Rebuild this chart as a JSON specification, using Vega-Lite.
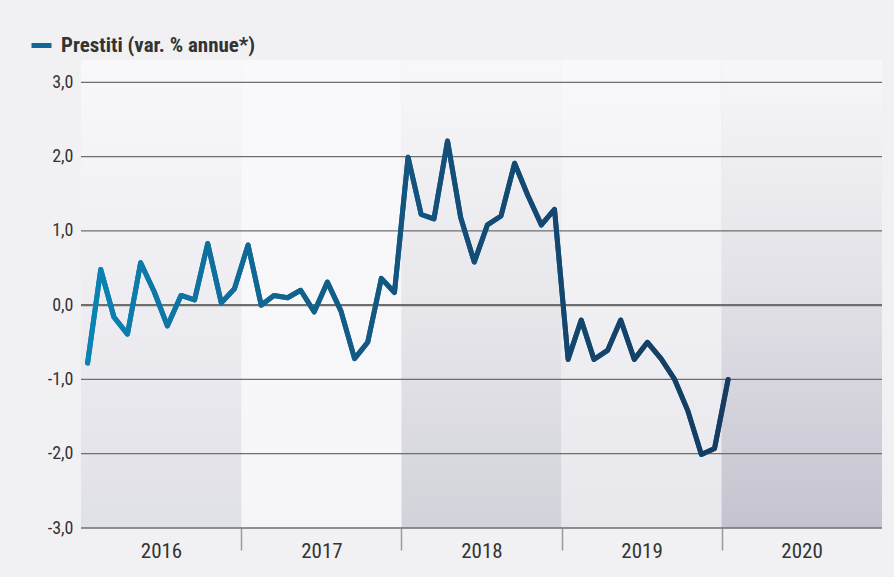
{
  "$schema": "https://vega.github.io/schema/vega-lite/v6.json",
  "width": 801,
  "height": 468,
  "autosize": {"type": "none"},
  "padding": {"left": 81, "top": 60, "right": 12, "bottom": 49},
  "background": "#f1f1f4",
  "config": {
    "view": {"stroke": null},
    "font": "Roboto Condensed, DejaVu Sans Condensed, Roboto"
  },
  "datasets": {
    "serie": [
      {"date": "2016-01-16", "val": -0.78},
      {"date": "2016-02-15", "val": 0.48},
      {"date": "2016-03-16", "val": -0.16},
      {"date": "2016-04-16", "val": -0.39},
      {"date": "2016-05-16", "val": 0.57},
      {"date": "2016-06-16", "val": 0.18},
      {"date": "2016-07-16", "val": -0.28},
      {"date": "2016-08-16", "val": 0.13},
      {"date": "2016-09-16", "val": 0.07},
      {"date": "2016-10-16", "val": 0.83},
      {"date": "2016-11-16", "val": 0.03},
      {"date": "2016-12-16", "val": 0.22},
      {"date": "2017-01-16", "val": 0.81},
      {"date": "2017-02-15", "val": 0.0},
      {"date": "2017-03-16", "val": 0.13},
      {"date": "2017-04-16", "val": 0.10},
      {"date": "2017-05-16", "val": 0.20},
      {"date": "2017-06-16", "val": -0.09},
      {"date": "2017-07-16", "val": 0.31},
      {"date": "2017-08-16", "val": -0.08},
      {"date": "2017-09-16", "val": -0.72},
      {"date": "2017-10-16", "val": -0.50},
      {"date": "2017-11-16", "val": 0.36},
      {"date": "2017-12-16", "val": 0.17},
      {"date": "2018-01-16", "val": 1.99},
      {"date": "2018-02-15", "val": 1.22},
      {"date": "2018-03-16", "val": 1.16},
      {"date": "2018-04-16", "val": 2.21},
      {"date": "2018-05-16", "val": 1.18},
      {"date": "2018-06-16", "val": 0.58},
      {"date": "2018-07-16", "val": 1.08},
      {"date": "2018-08-16", "val": 1.20},
      {"date": "2018-09-16", "val": 1.91},
      {"date": "2018-10-16", "val": 1.48},
      {"date": "2018-11-16", "val": 1.08},
      {"date": "2018-12-16", "val": 1.29},
      {"date": "2019-01-16", "val": -0.73},
      {"date": "2019-02-15", "val": -0.20},
      {"date": "2019-03-16", "val": -0.73},
      {"date": "2019-04-16", "val": -0.61},
      {"date": "2019-05-16", "val": -0.20},
      {"date": "2019-06-16", "val": -0.73},
      {"date": "2019-07-16", "val": -0.50},
      {"date": "2019-08-16", "val": -0.72},
      {"date": "2019-09-16", "val": -1.00},
      {"date": "2019-10-16", "val": -1.42},
      {"date": "2019-11-16", "val": -2.01},
      {"date": "2019-12-16", "val": -1.93},
      {"date": "2020-01-16", "val": -1.00}
    ],
    "bands": [
      {"start": "2016-01-01", "end": "2017-01-01", "tone": "a"},
      {"start": "2017-01-01", "end": "2018-01-01", "tone": "b"},
      {"start": "2018-01-01", "end": "2019-01-01", "tone": "c"},
      {"start": "2019-01-01", "end": "2020-01-01", "tone": "d"},
      {"start": "2020-01-01", "end": "2021-01-01", "tone": "e"}
    ],
    "grid": [{"v": -3}, {"v": -2}, {"v": -1}, {"v": 0}, {"v": 1}, {"v": 2}, {"v": 3}]
  },
  "layer": [
    {
      "data": {"name": "bands"},
      "mark": {"type": "rect"},
      "encoding": {
        "x": {
          "field": "start", "type": "temporal",
          "scale": {"domain": ["2016-01-01", "2021-01-01"]},
          "axis": {
            "values": ["2016-01-01", "2017-01-01", "2018-01-01", "2019-01-01", "2020-01-01"],
            "labelExpr": "utcyear(datum.value)",
            "title": null,
            "domain": false,
            "grid": false,
            "tickSize": 22,
            "tickColor": "#9a9a9a",
            "tickWidth": 1.5,
            "tickOpacity": {"condition": {"test": "utcyear(datum.value) == 2016", "value": 0}, "value": 1},
            "labelOffset": 80,
            "labelAlign": "center",
            "labelPadding": -10,
            "labelFontSize": 21,
            "labelColor": "#333333"
          }
        },
        "x2": {"field": "end"},
        "y": {"datum": 3.3, "type": "quantitative",
          "scale": {"domain": [-3, 3.3], "nice": false, "zero": false},
          "axis": {
            "values": [-3, -2, -1, 0, 1, 2, 3],
            "labelExpr": "replace(replace(format(datum.value, '.1f'), '.', ','), '\u2212', '-')",
            "title": null,
            "domain": false,
            "ticks": false,
            "grid": false,
            "labelPadding": 8,
            "labelFontSize": 18,
            "labelColor": "#333333"
          }
        },
        "y2": {"datum": -3},
        "fill": {
          "field": "tone", "type": "nominal", "legend": null,
          "scale": {"domain": ["a", "b", "c", "d", "e"], "range": ["#e0e0e7", "#f6f6f8", "#d2d2da", "#e7e7ec", "#c5c3cf"]}
        }
      }
    },
    {
      "data": {"name": "bands"},
      "mark": {
        "type": "rect",
        "color": {
          "gradient": "linear", "x1": 0, "y1": 0, "x2": 0, "y2": 1,
          "stops": [
            {"offset": 0, "color": "rgba(249,249,251,0.97)"},
            {"offset": 0.5, "color": "rgba(249,249,251,0.55)"},
            {"offset": 1, "color": "rgba(249,249,251,0)"}
          ]
        }
      },
      "encoding": {
        "x": {"field": "start", "type": "temporal"},
        "x2": {"field": "end"},
        "y": {"datum": 3.3, "type": "quantitative"},
        "y2": {"datum": -3}
      }
    },
    {
      "data": {"name": "grid"},
      "mark": {"type": "rule", "color": "#6e6e6e"},
      "encoding": {
        "y": {"field": "v", "type": "quantitative"},
        "strokeWidth": {"condition": {"test": "datum.v == 0", "value": 2.2}, "value": 1.3}
      }
    },
    {
      "data": {"name": "serie"},
      "mark": {"type": "line", "strokeWidth": 5, "strokeJoin": "round", "strokeCap": "round"},
      "encoding": {
        "x": {"field": "date", "type": "temporal"},
        "y": {"field": "val", "type": "quantitative"},
        "stroke": {
          "datum": "Prestiti (var. % annue*)",
          "scale": {"range": ["#11679a"]},
          "legend": {
            "title": null,
            "orient": "none",
            "legendX": -52,
            "legendY": -27,
            "symbolType": "stroke",
            "symbolSize": 400,
            "symbolStrokeWidth": 5,
            "labelFontSize": 21,
            "labelFontWeight": "bold",
            "labelColor": "#333333",
            "labelLimit": 0,
            "labelOffset": 7,
            "padding": 0
          }
        }
      }
    },
    {
      "data": {"name": "serie"},
      "mark": {
        "type": "line", "strokeWidth": 5, "strokeJoin": "round", "strokeCap": "round",
        "color": {
          "gradient": "linear", "x1": 0, "y1": 0, "x2": 1, "y2": 0,
          "stops": [
            {"offset": 0, "color": "#0984b5"},
            {"offset": 0.3, "color": "#12648f"},
            {"offset": 0.6, "color": "#144c75"},
            {"offset": 1, "color": "#163b5f"}
          ]
        }
      },
      "encoding": {
        "x": {"field": "date", "type": "temporal"},
        "y": {"field": "val", "type": "quantitative"}
      }
    }
  ]
}
